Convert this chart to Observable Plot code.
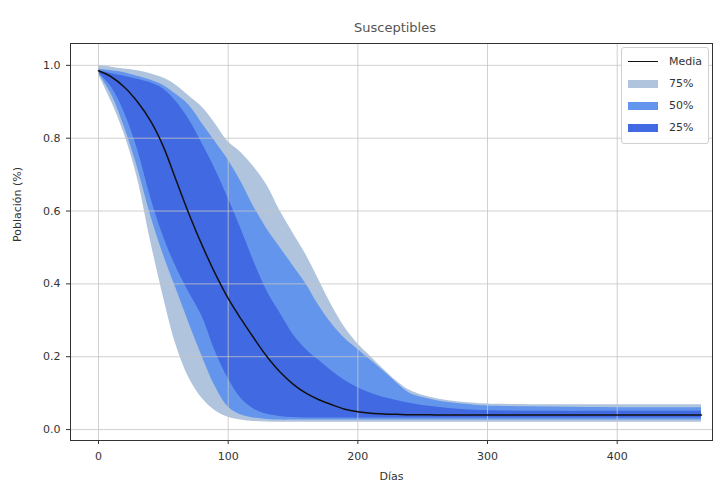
<!DOCTYPE html>
<html>
<head>
<meta charset="utf-8">
<script src="https://cdn.jsdelivr.net/npm/d3@7"></script>
<script src="https://cdn.jsdelivr.net/npm/@observablehq/plot@0.6"></script>
<style>
  html, body { margin: 0; padding: 0; background: #fff; }
  body { width: 720px; height: 484px; position: relative; overflow: hidden; font-family: "DejaVu Sans", sans-serif; }
  #title { position: absolute; left: 0; top: 20px; width: 790px; text-align: center; font-size: 13px; color: #555; }
  #chart { position: absolute; left: 0; top: 40px; }
  #legend { position: absolute; left: 621px; top: 47px; width: 86px; height: 95px; border: 1px solid #d0d0d0; border-radius: 3px; background: rgba(255,255,255,0.9); font-size: 11px; color: #333; }
  .row { position: absolute; left: 6px; display: flex; align-items: center; }
  .sw { width: 30px; height: 8px; margin-right: 11px; }
  .ln { width: 30px; height: 0; border-top: 1.6px solid #111; margin-right: 11px; }
</style>
</head>
<body>
<div id="title">Susceptibles</div>
<div id="chart"></div>
<div id="legend"></div>
<script>
// Days on the x axis
const days  = [0, 10, 20, 30, 40, 50, 60, 70, 80, 90, 100, 110, 120, 130, 140, 150, 160, 170, 180, 190, 200, 210, 220, 230, 240, 250, 260, 270, 280, 290, 300, 350, 400, 465];
// Mean ("Media")
const media = [0.985, 0.968, 0.94, 0.9, 0.848, 0.777, 0.683, 0.59, 0.505, 0.428, 0.36, 0.303, 0.25, 0.2, 0.158, 0.125, 0.1, 0.082, 0.068, 0.056, 0.049, 0.045, 0.043, 0.042, 0.041, 0.041, 0.04, 0.04, 0.04, 0.04, 0.04, 0.04, 0.04, 0.04];
// 75% band
const lo75 = [0.975, 0.90, 0.81, 0.69, 0.52, 0.365, 0.23, 0.14, 0.085, 0.052, 0.034, 0.026, 0.022, 0.021, 0.02, 0.02, 0.02, 0.02, 0.02, 0.02, 0.02, 0.02, 0.02, 0.02, 0.02, 0.02, 0.02, 0.02, 0.02, 0.02, 0.02, 0.02, 0.02, 0.02];
const hi75 = [1.0, 0.995, 0.99, 0.985, 0.977, 0.965, 0.945, 0.915, 0.885, 0.84, 0.79, 0.76, 0.72, 0.67, 0.6, 0.54, 0.48, 0.41, 0.34, 0.28, 0.235, 0.2, 0.165, 0.133, 0.108, 0.094, 0.085, 0.079, 0.075, 0.072, 0.07, 0.068, 0.068, 0.068];
// 50% band
const lo50 = [0.978, 0.92, 0.83, 0.72, 0.59, 0.48, 0.385, 0.29, 0.2, 0.118, 0.062, 0.04, 0.032, 0.028, 0.026, 0.026, 0.026, 0.026, 0.026, 0.026, 0.026, 0.026, 0.026, 0.026, 0.026, 0.026, 0.026, 0.026, 0.026, 0.026, 0.026, 0.026, 0.026, 0.026];
const hi50 = [0.99, 0.985, 0.98, 0.97, 0.96, 0.945, 0.92, 0.89, 0.84, 0.79, 0.74, 0.68, 0.61, 0.55, 0.5, 0.45, 0.4, 0.34, 0.29, 0.25, 0.22, 0.19, 0.16, 0.128, 0.1, 0.088, 0.08, 0.074, 0.07, 0.067, 0.065, 0.062, 0.06, 0.06];
// 25% band
const lo25 = [0.98, 0.94, 0.87, 0.77, 0.64, 0.53, 0.445, 0.375, 0.31, 0.215, 0.14, 0.085, 0.056, 0.042, 0.036, 0.033, 0.032, 0.032, 0.032, 0.032, 0.032, 0.032, 0.032, 0.032, 0.032, 0.032, 0.032, 0.032, 0.032, 0.032, 0.032, 0.032, 0.032, 0.032];
const hi25 = [0.985, 0.977, 0.97, 0.962, 0.952, 0.935, 0.9, 0.85, 0.785, 0.715, 0.635, 0.55, 0.46, 0.38, 0.32, 0.262, 0.22, 0.19, 0.16, 0.135, 0.115, 0.1, 0.088, 0.08, 0.072, 0.066, 0.062, 0.058, 0.055, 0.053, 0.052, 0.05, 0.05, 0.05];

const xTicks = [0, 100, 200, 300, 400];
const yTicks = [0, 0.2, 0.4, 0.6, 0.8, 1.0];
const bandLabels = ["75%", "50%", "25%"];
const bandColors = ["#b0c4de", "#6495ed", "#4169e1"];
const lineColor = "#111";

const rows = days.map((d, i) => ({
  day: d, media: media[i],
  lo75: lo75[i], hi75: hi75[i],
  lo50: lo50[i], hi50: hi50[i],
  lo25: lo25[i], hi25: hi25[i]
}));

const curve = "catmull-rom";
const chart = Plot.plot({
  width: 720,
  height: 444,
  marginTop: 3,
  marginBottom: 44,
  marginLeft: 70,
  marginRight: 8,
  style: { fontFamily: "DejaVu Sans, sans-serif", fontSize: "11px", color: "#333", background: "white" },
  x: { domain: [-21.6, 473.5] },
  y: { domain: [-0.03, 1.06] },
  marks: [
    Plot.areaY(rows, { x: "day", y1: "lo75", y2: "hi75", fill: bandColors[0], curve }),
    Plot.areaY(rows, { x: "day", y1: "lo50", y2: "hi50", fill: bandColors[1], curve }),
    Plot.areaY(rows, { x: "day", y1: "lo25", y2: "hi25", fill: bandColors[2], curve }),
    Plot.gridX(xTicks, { stroke: "#c4c4c4", strokeOpacity: 0.8, strokeWidth: 1 }),
    Plot.gridY(yTicks, { stroke: "#c4c4c4", strokeOpacity: 0.8, strokeWidth: 1 }),
    Plot.lineY(rows, { x: "day", y: "media", stroke: lineColor, strokeWidth: 1.5, curve }),
    Plot.axisX(xTicks, { tickSize: 4, tickPadding: 8, label: null, stroke: "#333" }),
    Plot.axisY(yTicks, { tickSize: 4, tickPadding: 6, label: null, tickFormat: d3.format(".1f"), stroke: "#333" }),
    Plot.text(["Días"], { frameAnchor: "bottom", dy: 39, fontSize: 11, fill: "#333" }),
    Plot.text(["Población (%)"], { frameAnchor: "left", dx: -53, rotate: -90, fontSize: 11, fill: "#333" }),
    Plot.frame({ stroke: "#333", strokeWidth: 1 })
  ]
});
document.getElementById("chart").appendChild(chart);

// Legend
const legend = document.getElementById("legend");
const entries = [{ label: "Media", type: "line", color: lineColor }]
  .concat(bandLabels.map((l, i) => ({ label: l, type: "swatch", color: bandColors[i] })));
entries.forEach((e, i) => {
  const row = document.createElement("div");
  row.className = "row";
  row.style.top = (7 + i * 22) + "px";
  const s = document.createElement("div");
  if (e.type === "line") { s.className = "ln"; s.style.borderTopColor = e.color; }
  else { s.className = "sw"; s.style.background = e.color; }
  const t = document.createElement("span");
  t.textContent = e.label;
  row.appendChild(s); row.appendChild(t);
  legend.appendChild(row);
});
</script>
</body>
</html>
